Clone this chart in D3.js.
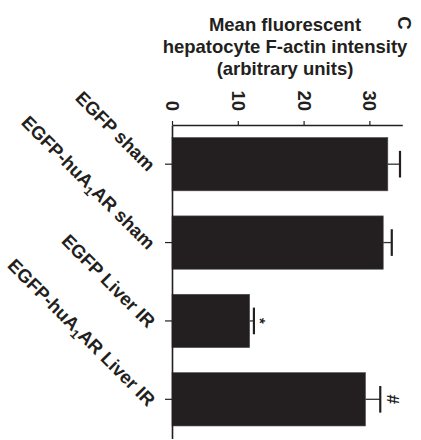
<!DOCTYPE html>
<html>
<head>
<meta charset="utf-8">
<script src="https://cdn.jsdelivr.net/npm/d3@7"></script>
<style>
  html, body { margin: 0; padding: 0; background: #fff; }
  svg { display: block; }
  text { font-family: "Liberation Sans", Arial, Helvetica, sans-serif; font-weight: bold; fill: #231f20; }
</style>
</head>
<body>
<svg id="chart" width="421" height="440"></svg>
<script>
// ---- data ----
const categories = ["EGFP sham", "EGFP-huA1AR sham", "EGFP Liver IR", "EGFP-huA1AR Liver IR"];
const labelParts = [
  [["EGFP sham", false]],
  [["EGFP-huA", false], ["1", true], ["AR sham", false]],
  [["EGFP Liver IR", false]],
  [["EGFP-huA", false], ["1", true], ["AR Liver IR", false]]
];
const values = [32.8, 32.1, 11.8, 29.4];
const errors = [1.85, 1.3, 0.65, 2.25];
const marks = ["", "", "*", "#"];
const tickValues = [0, 10, 20, 30];
const titleLines = ["Mean fluorescent", "hepatocyte F-actin intensity", "(arbitrary units)"];
const panelLetter = "C";

// ---- scales ----
const svg = d3.select("#chart");
const dark = "#231f20";
const x = d3.scaleLinear().domain([0, 35]).range([172, 402.3]);
const y = d3.scaleBand().domain(categories).range([125, 438.5])
  .paddingInner(0.32).paddingOuter(0.16);
const bw = y.bandwidth();

// ---- bars ----
svg.append("g").selectAll("rect").data(categories).join("rect")
  .attr("x", x(0))
  .attr("y", d => y(d))
  .attr("width", (d, i) => x(values[i]) - x(0))
  .attr("height", bw)
  .attr("fill", dark)
  .attr("stroke", "#4a4a4a")
  .attr("stroke-width", 0.6);

// ---- error bars ----
const eg = svg.append("g");
categories.forEach((c, i) => {
  const cy = y(c) + bw / 2;
  eg.append("line")
    .attr("x1", x(values[i])).attr("x2", x(values[i] + errors[i]))
    .attr("y1", cy).attr("y2", cy)
    .attr("stroke", "#333").attr("stroke-width", 1.3);
  eg.append("line")
    .attr("x1", x(values[i] + errors[i])).attr("x2", x(values[i] + errors[i]))
    .attr("y1", cy - bw / 4).attr("y2", cy + bw / 4)
    .attr("stroke", dark).attr("stroke-width", 2.2);
  if (marks[i]) {
    eg.append("text")
      .attr("transform", `translate(${x(values[i] + errors[i]) + (marks[i] === "*" ? 12 : 13)},${cy}) rotate(90)`)
      .attr("text-anchor", "middle")
      .attr("dy", marks[i] === "*" ? "0.75em" : "0.35em")
      .attr("font-size", marks[i] === "*" ? 15 : 17)
      .text(marks[i]);
  }
});

// ---- value axis (top) ----
const axisTop = d3.axisTop(x).tickValues(tickValues).tickSize(4).tickSizeOuter(0).tickFormat(d3.format("d"));
const gx = svg.append("g").attr("transform", "translate(0,125)").call(axisTop);
gx.select(".domain").attr("stroke", dark).attr("stroke-width", 1.6);
gx.selectAll(".tick line").attr("stroke", dark).attr("stroke-width", 1.2);
gx.selectAll(".tick text")
  .attr("x", 0).attr("y", 0)
  .attr("transform", "translate(0,-14) rotate(90)")
  .attr("text-anchor", "end")
  .attr("dy", "0.35em")
  .attr("font-size", 18.5)
  .attr("font-family", null)
  .attr("fill", dark);

// ---- category axis (left) ----
const axisLeft = d3.axisLeft(y).tickSize(7).tickSizeOuter(0).tickFormat("");
const gy = svg.append("g").attr("transform", "translate(172,0)").call(axisLeft);
gy.select(".domain").attr("stroke", dark).attr("stroke-width", 1.6);
gy.selectAll(".tick line").attr("stroke", dark).attr("stroke-width", 1.2);

// ---- category labels ----
categories.forEach((c, i) => {
  const cy = y(c) + bw / 2;
  const t = svg.append("text")
    .attr("transform", `translate(152,${cy + 3.5}) rotate(45)`)
    .attr("text-anchor", "end")
    .attr("font-size", 18.5);
  let shift = 0;
  labelParts[i].forEach(([s, sub], k) => {
    const ts = t.append("tspan").text(s);
    let dy = 0;
    if (k === 0) dy = 6.5;
    if (sub) { ts.attr("font-size", 12.5); dy += 4; shift = 4; }
    else if (shift) { dy -= shift; shift = 0; }
    ts.attr("dy", dy);
  });
});

// ---- title ----
svg.append("g").selectAll("text").data(titleLines).join("text")
  .attr("x", 285)
  .attr("y", (d, i) => 31 + i * 22)
  .attr("text-anchor", "middle")
  .attr("font-size", 18.5)
  .text(d => d);

svg.append("text")
  .attr("transform", "translate(404,23) rotate(90)")
  .attr("text-anchor", "middle")
  .attr("dy", "0.35em")
  .attr("font-size", 18.5)
  .text(panelLetter);
</script>
</body>
</html>
